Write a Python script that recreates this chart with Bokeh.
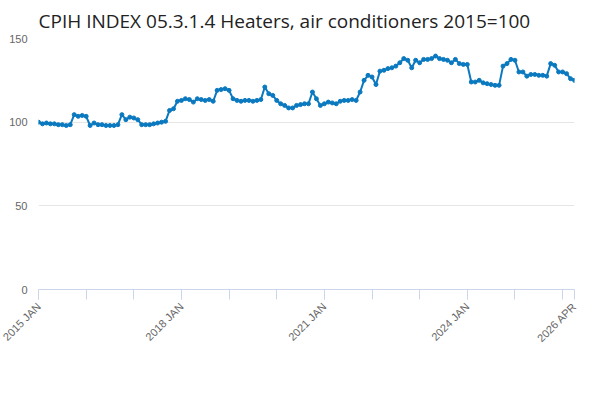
from bokeh.plotting import figure
from bokeh.models import FixedTicker, Legend, LegendItem, Label, ColumnDataSource
from bokeh.embed import file_html
from bokeh.resources import INLINE

values = [100, 99, 99.5, 99, 99, 98.5, 98.5, 98, 98.5,
          104.5, 103.5, 104, 103.5,
          98, 99.5, 98.5, 98.5, 98, 98, 98, 98.5,
          104.5, 101.5, 103, 102.5, 101.5,
          98.5, 98.5, 98.5, 99, 99.5, 100, 100.5,
          107, 108,
          112.5, 113, 114, 113.5, 112, 114, 113.5, 113, 113.5, 112.5,
          119, 119.5, 120, 119,
          114, 113, 112.5, 113, 113, 112.5, 113, 113.5,
          121, 117, 116, 113, 111, 110,
          108.5, 108.5, 110, 110.5, 111, 111,
          118, 114,
          110, 111, 112, 111.5, 111, 112.5, 113, 113, 113.5, 113,
          118, 125, 128, 127, 122.5,
          130.5, 131, 132, 132.5, 133.5, 135.5,
          138, 137,
          132.5,
          137, 135.5, 137.5, 137.5, 138,
          139.5, 138, 137.5,
          137, 135.5, 137.5, 135, 134.5, 134.5,
          124, 124, 125, 123.5, 123, 122.5, 122,
          122,
          133.5, 135, 137.5, 137,
          130, 130, 127.5, 128.5, 128.5, 128, 128,
          127.5,
          135, 134,
          130, 130, 129,
          126, 125]
idx = list(range(len(values)))
tick_pos = [0, 36, 72, 108, 135]
tick_labels = ["2015 JAN", "2018 JAN", "2021 JAN", "2024 JAN", "2026 APR"]
series_name = "CPIH INDEX 05.3.1.4 Heaters, air conditioners 2015=100"
color = "#0b79bf"

p = figure(width=584, height=384, output_backend="svg", toolbar_location=None,
           x_range=(0, 135), y_range=(0, 150), min_border_left=38, min_border_right=10,
           min_border_bottom=95, min_border_top=10)
p.title.text = series_name
p.title.text_font = "Open Sans"
p.title.text_font_size = "19px"
p.title.text_font_style = "normal"
p.title.text_color = "#222222"
p.outline_line_color = None

src = ColumnDataSource(dict(x=idx, y=values))
r = p.line("x", "y", source=src, line_color=color, line_width=2)
p.scatter("x", "y", source=src, size=4, color=color)

p.xaxis.ticker = FixedTicker(ticks=tick_pos, minor_ticks=list(range(0, 136, 12)))
p.xaxis.major_label_overrides = {t: l for t, l in zip(tick_pos, tick_labels)}
p.xaxis.major_label_orientation = 0.785
p.xaxis.axis_line_color = "#ccd6eb"
p.xaxis.major_tick_line_color = "#ccd6eb"
p.xaxis.minor_tick_line_color = "#ccd6eb"
p.xaxis.major_tick_out = 10
p.xaxis.minor_tick_out = 10
p.xaxis.minor_tick_in = 0
p.xaxis.major_tick_in = 0
p.xaxis.major_label_text_color = "#666666"
p.xaxis.major_label_text_font_size = "11px"
p.xgrid.grid_line_color = None

p.yaxis.ticker = FixedTicker(ticks=[0, 50, 100, 150])
p.yaxis.axis_line_color = None
p.yaxis.major_tick_line_color = None
p.yaxis.minor_tick_line_color = None
p.yaxis.major_label_text_color = "#666666"
p.yaxis.major_label_text_font_size = "11px"
p.ygrid.grid_line_color = "#e6e6e6"

legend = Legend(items=[LegendItem(label=series_name, renderers=[r])],
                location=(40, -88), orientation="horizontal", border_line_color=None,
                background_fill_alpha=0,
                label_text_font_size="13px", label_text_font_style="bold",
                label_text_color="#333333", glyph_width=20)
p.add_layout(legend, "center")
p.add_layout(Label(x=545, y=-100, x_units="screen", y_units="screen", text="Source:",
                   text_font_size="13px", text_color="#666666", text_align="right"))

open("out.html", "w").write(file_html(p, INLINE))
